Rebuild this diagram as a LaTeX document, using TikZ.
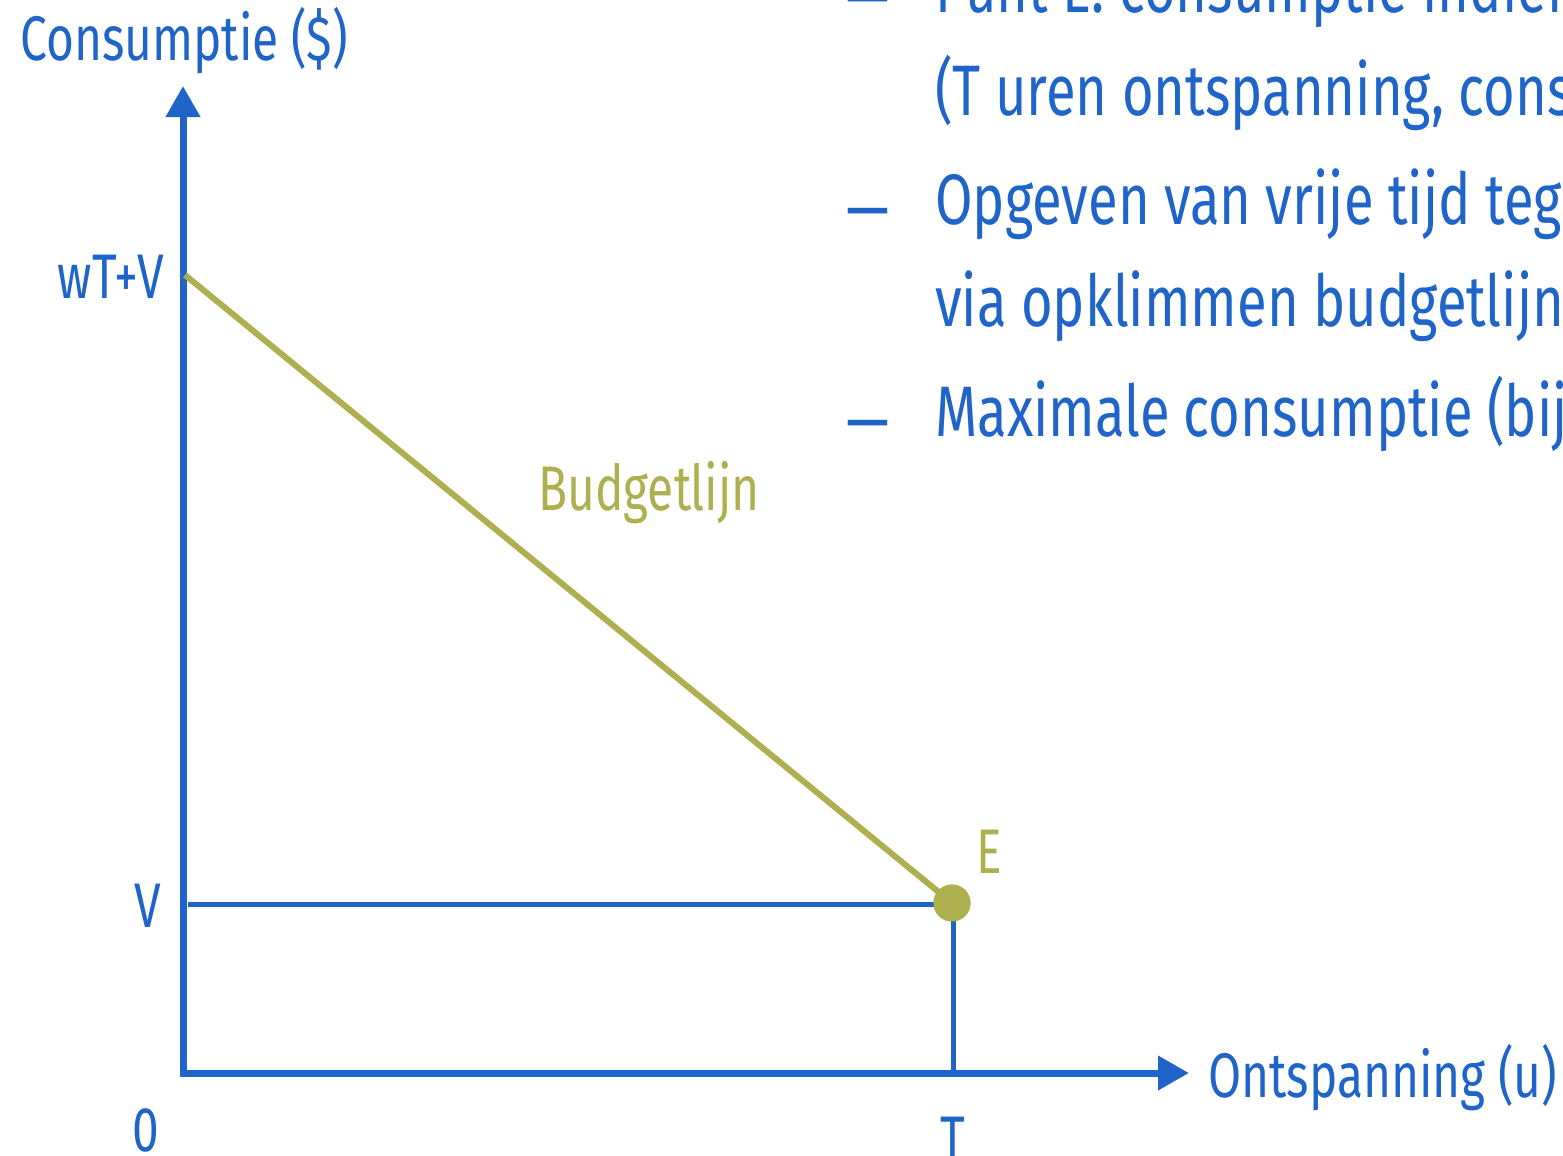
\documentclass[tikz,border=0pt]{standalone}
\usepackage{fontspec}
\setmainfont{Fira Sans}[FakeStretch=0.76]
\usetikzlibrary{arrows.meta}
\definecolor{axblue}{RGB}{31,100,200}
\definecolor{olive}{RGB}{174,176,80}
\tikzset{
  lbl/.style={inner sep=0pt, text=axblue, font=\fontsize{63}{70}\selectfont},
  bigtxt/.style={inner sep=0pt, text=axblue, font=\fontsize{71.5}{78}\selectfont, anchor=base west},
  axis/.style={draw=axblue, line width=7pt, -{Triangle[length=31pt,width=33pt]}},
  guide/.style={draw=axblue, line width=5pt},
  budget/.style={draw=olive, line width=6pt},
  dot/.style={circle, fill=olive, minimum size=37pt, inner sep=0pt},
}
\begin{document}
\begin{tikzpicture}[x=1pt,y=-1pt]
\useasboundingbox (0,0) rectangle (1563,1156);
\clip (0,0) rectangle (1563,1156);
\fill[white] (0,0) rectangle (1563,1156);
% coordinates
\coordinate (O) at (183,1073);
\coordinate (Ytop) at (183,86);
\coordinate (Xend) at (1189,1073);
\coordinate (A) at (185,275);
\coordinate (Vp) at (188,904);
\coordinate (Tp) at (953,1073);
\node[dot] (E) at (952,903) {};
% guides
\draw[guide] (Vp) -- (Vp -| E.center);
\draw[guide] (Tp) -- (Tp |- E.center);
% axes
\draw[axis] (O) ++(0,3.5) -- (Ytop);
\draw[axis] (O) ++(-3.5,0) -- (Xend);
% budget line
\draw[budget] (A) -- (E.center);
\node[dot] at (E) {};
% labels
\node[lbl, anchor=base west] (ylab) at (20,60) {Consumptie (\$)};
\node[lbl, anchor=base west] (xlab) at (1208,1097) {Ontspanning (u)};
\node[lbl, anchor=base east] (wtv) at (164,298) {wT+V};
\node[lbl, anchor=base] (vlab) at (148,927) {V};
\node[lbl, anchor=base] (olab) at (146,1151) {0};
\node[lbl, anchor=base] (tlab) at (953,1160) {T};
\node[lbl, anchor=base west, text=olive] (elab) at (976,873) {E};
\node[lbl, anchor=base west, text=olive] (blab) at (538,510) {Budgetlijn};
% bullet text
\node[bigtxt] (d1) at (846,13) {\raisebox{-9pt}{—}};
\node[bigtxt] (t1) at (935,13) {Punt E: consumptie indien};
\node[bigtxt] (t2) at (935,115) {(T uren ontspanning, consumptie V)};
\node[bigtxt] (d2) at (846,224) {\raisebox{-9pt}{—}};
\node[bigtxt] (t3) at (935,224) {Opgeven van vrije tijd tegen};
\node[bigtxt] (t4) at (935,326) {via opklimmen budgetlijn};
\node[bigtxt] (d3) at (846,436) {\raisebox{-9pt}{—}};
\node[bigtxt] (t5) at (935,436) {Maximale consumptie (bij};
\end{tikzpicture}
\end{document}
